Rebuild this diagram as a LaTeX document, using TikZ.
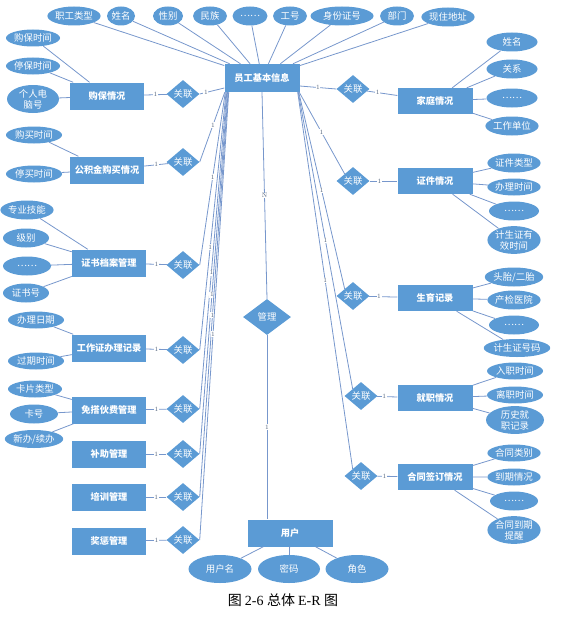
\documentclass[tikz,border=0pt]{standalone}
\usepackage{fontspec}
\usepackage{xcolor}
\usepackage{tikz}
\usetikzlibrary{shapes.geometric,positioning}
\newfontfamily\cjk{Noto Sans CJK SC}
\newfontfamily\capserif{Liberation Serif}
\definecolor{erblue}{HTML}{5B9BD5}
\definecolor{erline}{HTML}{7797CC}
\definecolor{ergray}{HTML}{4F6078}

\begin{document}
\begin{tikzpicture}[
  x=1pt, y=-1pt,
  entity/.style={fill=erblue, text=white, font=\cjk\bfseries\fontsize{9.2}{10}\selectfont, minimum width=74pt, minimum height=27pt, inner sep=1pt},
  attr/.style={ellipse, fill=erblue, text=white, align=center, font=\cjk\fontsize{9.4}{11}\selectfont, minimum width=52pt, minimum height=19pt, inner sep=0pt},
  rel/.style={diamond, fill=erblue, text=white, font=\cjk\fontsize{9.4}{10}\selectfont, minimum width=33pt, minimum height=28pt, inner sep=0pt},
  link/.style={draw=erline, line width=0.8pt},
  card/.style={font=\fontsize{6.5}{6.5}\selectfont, text=ergray, fill=white, inner sep=0.6pt}
]
\useasboundingbox (0,0) rectangle (567,618);

% central entity and its attributes
\node[entity, minimum width=75pt, minimum height=28pt] (emp) at (262,78) {员工基本信息};
\node[attr, minimum width=48pt] (aType) at (74,16) {职工类型};
\node[attr, minimum width=28pt] (aName) at (121,16) {姓名};
\node[attr, minimum width=30pt] (aSex) at (168,16) {性别};
\node[attr, minimum width=34pt] (aNation) at (210,16) {民族};
\node[attr, minimum width=35pt] (aMore) at (250,16) {……};
\node[attr, minimum width=34pt] (aNo) at (290,16) {工号};
\node[attr, minimum width=63pt] (aId) at (342,16) {身份证号};
\node[attr, minimum width=34pt] (aDept) at (397,16) {部门};
\node[attr, minimum width=50pt] (aAddr) at (448,17) {现住地址};

% left side
\node[entity] (ins) at (107,96) {购保情况};
\node[rel] (dIns) at (183,94) {关联};
\node[attr, minimum width=54pt, minimum height=17pt] (insStart) at (33,38) {购保时间};
\node[attr, minimum width=54pt, minimum height=17pt] (insStop) at (33,66) {停保时间};
\node[attr, minimum width=52pt, minimum height=28pt] (insPc) at (33,99) {个人电\\脑号};

\node[entity] (fund) at (107,170) {公积金购买情况};
\node[rel] (dFund) at (183,162) {关联};
\node[attr, minimum width=56pt, minimum height=17pt] (fundStart) at (34,135) {购买时间};
\node[attr, minimum width=56pt, minimum height=17pt] (fundStop) at (34,174) {停买时间};

\node[entity] (cert) at (109,263) {证书档案管理};
\node[rel] (dCert) at (183,265) {关联};
\node[attr, minimum width=50pt] (certSkill) at (27,210) {专业技能};
\node[attr, minimum width=46pt] (certLevel) at (26,238) {级别};
\node[attr, minimum width=48pt] (certMore) at (27,266) {……};
\node[attr, minimum width=46pt] (certNo) at (26,293) {证书号};

\node[entity] (permit) at (109,348) {工作证办理记录};
\node[rel] (dPermit) at (183,350) {关联};
\node[attr, minimum width=56pt, minimum height=17pt] (permitDate) at (36,320) {办理日期};
\node[attr, minimum width=56pt, minimum height=17pt] (permitEnd) at (36,361) {过期时间};

\node[entity] (meal) at (109,410) {免搭伙费管理};
\node[rel] (dMeal) at (183,409) {关联};
\node[attr, minimum width=54pt, minimum height=17pt] (mealType) at (35,389) {卡片类型};
\node[attr, minimum width=48pt] (mealCard) at (34,414) {卡号};
\node[attr, minimum width=54pt, minimum height=18pt] (mealNew) at (34,439) {新办/续办};

\node[entity] (aid) at (109,454) {补助管理};
\node[rel] (dAid) at (183,454) {关联};
\node[entity] (train) at (109,497) {培训管理};
\node[rel] (dTrain) at (183,497) {关联};
\node[entity] (reward) at (109,541) {奖惩管理};
\node[rel] (dReward) at (183,540) {关联};

% right side
\node[entity, minimum width=75pt, minimum height=26pt] (family) at (435,101) {家庭情况};
\node[rel] (dFamily) at (353,89) {关联};
\node[attr, minimum width=51pt] (famName) at (512,42) {姓名};
\node[attr, minimum width=51pt] (famRel) at (512,69) {关系};
\node[attr, minimum width=51pt] (famMore) at (512,98) {……};
\node[attr, minimum width=51pt] (famWork) at (512,126) {工作单位};

\node[entity, minimum width=75pt, minimum height=26pt] (idcard) at (435,181) {证件情况};
\node[rel] (dIdcard) at (353,181) {关联};
\node[attr, minimum width=50pt] (idType) at (514,163) {证件类型};
\node[attr, minimum width=50pt, minimum height=17pt] (idDate) at (514,187) {办理时间};
\node[attr, minimum width=50pt] (idMore) at (514,211) {……};
\node[attr, minimum width=50pt, minimum height=27pt] (idValid) at (514,240) {计生证有\\效时间};

\node[entity, minimum width=75pt, minimum height=26pt] (birth) at (435,298) {生育记录};
\node[rel] (dBirth) at (353,296) {关联};
\node[attr, minimum width=50pt] (birthOrder) at (514,277) {头胎/二胎};
\node[attr, minimum width=50pt] (birthHosp) at (514,300) {产检医院};
\node[attr, minimum width=50pt] (birthMore) at (514,325) {……};
\node[attr, minimum width=60pt, minimum height=18pt] (birthNo) at (517,348) {计生证号码};

\node[entity, minimum width=75pt, minimum height=26pt] (job) at (435,398) {就职情况};
\node[rel] (dJob) at (361,396) {关联};
\node[attr, minimum width=56pt, minimum height=17pt] (jobIn) at (515,371) {入职时间};
\node[attr, minimum width=56pt, minimum height=17pt] (jobOut) at (515,395) {离职时间};
\node[attr, minimum width=58pt, minimum height=26pt] (jobHist) at (515,420) {历史就\\职记录};

\node[entity, minimum width=75pt, minimum height=26pt] (contract) at (435,477) {合同签订情况};
\node[rel] (dContract) at (361,476) {关联};
\node[attr, minimum width=48pt, minimum height=17pt] (conType) at (514,453) {合同类别};
\node[attr, minimum width=48pt, minimum height=17pt] (conDue) at (514,477) {到期情况};
\node[attr, minimum width=48pt] (conMore) at (514,501) {……};
\node[attr, minimum width=50pt, minimum height=27pt] (conRemind) at (514,530) {合同到期\\提醒};

% middle: user
\node[rel, minimum width=48pt, minimum height=36pt] (manage) at (267,317) {管理};
\node[entity, minimum width=85pt] (user) at (290,533) {用户};
\node[attr, minimum width=63pt, minimum height=28pt] (uName) at (220,569) {用户名};
\node[attr, minimum width=62pt, minimum height=28pt] (uPwd) at (289,569) {密码};
\node[attr, minimum width=63pt, minimum height=28pt] (uRole) at (357,569) {角色};

\node[font=\fontsize{14}{16}\selectfont] (caption) at (283,600) {\cjk 图 \capserif 2-6 \cjk 总体 \capserif E-R \cjk 图};

% attributes
\draw[link] (aType) -- (emp) (aName) -- (emp) (aSex) -- (emp) (aNation) -- (emp) (aMore) -- (emp);
\draw[link] (aNo) -- (emp) (aId) -- (emp) (aDept) -- (emp) (aAddr) -- (emp);
\draw[link] (insStart) -- (ins) (insStop) -- (ins) (insPc) -- (ins);
\draw[link] (fundStart) -- (fund) (fundStop) -- (fund);
\draw[link] (certSkill) -- (cert) (certLevel) -- (cert) (certMore) -- (cert) (certNo) -- (cert);
\draw[link] (permitDate) -- (permit) (permitEnd) -- (permit);
\draw[link] (mealType) -- (meal) (mealCard) -- (meal) (mealNew) -- (meal);
\draw[link] (famName) -- (family) (famRel) -- (family) (famMore) -- (family) (famWork) -- (family);
\draw[link] (idType) -- (idcard) (idDate) -- (idcard) (idMore) -- (idcard) (idValid) -- (idcard);
\draw[link] (birthOrder) -- (birth) (birthHosp) -- (birth) (birthMore) -- (birth) (birthNo) -- (birth);
\draw[link] (jobIn) -- (job) (jobOut) -- (job) (jobHist) -- (job);
\draw[link] (conType) -- (contract) (conDue) -- (contract) (conMore) -- (contract) (conRemind) -- (contract);
\draw[link] (user) -- (uName) (user) -- (uPwd) (user) -- (uRole);

% relations, left
\draw[link] (ins) -- node[card] {1} (dIns);
\draw[link] (dIns.east) -- node[card, pos=0.25] {1} ([yshift=-10pt]emp.west);
\draw[link] (fund) -- node[card] {1} (dFund);
\draw[link] (dFund.east) -- node[card, pos=0.53] {1} ([xshift=0.5pt]emp.south west);
\draw[link] (cert) -- node[card] {1} (dCert);
\draw[link] (dCert.east) -- node[card, pos=0.51] {1} ([xshift=1pt]emp.south west);
\draw[link] (permit) -- node[card] {1} (dPermit);
\draw[link] (dPermit.east) -- node[card, pos=0.4] {1} ([xshift=1.8pt]emp.south west);
\draw[link] (meal) -- node[card] {1} (dMeal);
\draw[link] (dMeal.east) -- node[card, pos=0.43] {1} ([xshift=2.5pt]emp.south west);
\draw[link] (aid) -- node[card] {1} (dAid);
\draw[link] (dAid.east) -- node[card, pos=0.44] {1} ([xshift=3.2pt]emp.south west);
\draw[link] (train) -- node[card] {1} (dTrain);
\draw[link] (dTrain.east) -- node[card, pos=0.45] {1} ([xshift=3.8pt]emp.south west);
\draw[link] (reward) -- node[card] {1} (dReward);
\draw[link] (dReward.east) -- node[card, pos=0.46] {1} ([xshift=4.4pt]emp.south west);

% relations, right
\draw[link] ([yshift=-8pt]emp.east) -- node[card] {1} (dFamily.west);
\draw[link] (dFamily) -- node[card, pos=0.35] {1} (family);
\draw[link] ([xshift=-0.5pt]emp.south east) -- node[card, pos=0.49] {1} (dIdcard.north west);
\draw[link] (dIdcard) -- node[card, pos=0.35] {1} (idcard);
\draw[link] ([xshift=-1pt]emp.south east) -- node[card, pos=0.5] {1} (dBirth.north west);
\draw[link] (dBirth) -- node[card, pos=0.35] {1} (birth);
\draw[link] ([xshift=-1.5pt]emp.south east) -- node[card, pos=0.5] {1} (dJob.north west);
\draw[link] (dJob) -- node[card, pos=0.35] {1} (job);
\draw[link] ([xshift=-2pt]emp.south east) -- node[card, pos=0.5] {1} (dContract.north west);
\draw[link] (dContract) -- node[card, pos=0.35] {1} (contract);

% manage
\draw[link] (emp.south) -- node[card] {N} (manage.north);
\draw[link] (manage.south) -- node[card] {1} (manage.south |- user.north);
\end{tikzpicture}
\end{document}
